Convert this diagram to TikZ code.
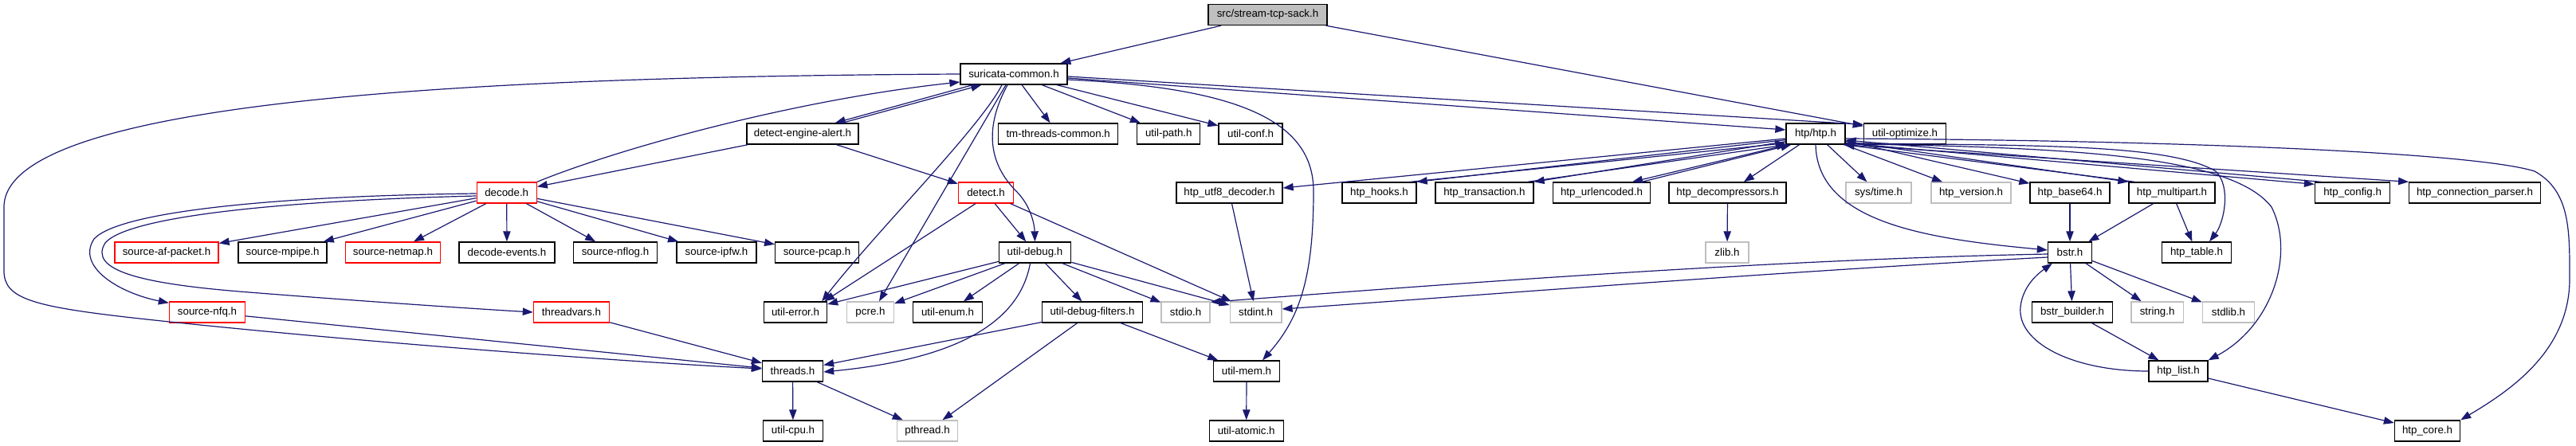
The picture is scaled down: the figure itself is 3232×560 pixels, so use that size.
\documentclass[tikz,border=0pt]{standalone}
\usepackage{fontspec}
\setmainfont{Liberation Sans}
\usetikzlibrary{arrows.meta,calc}
\definecolor{edgec}{HTML}{191970}
\definecolor{grayb}{HTML}{BFBFBF}
\tikzset{
  nb/.style={draw=black, line width=1pt, rectangle, inner sep=0pt, minimum height=19.5pt, font=\fontsize{10}{12}\selectfont, fill=white},
  rb/.style={nb, draw=red},
  gb/.style={nb, draw=grayb},
  rootb/.style={nb, fill=grayb},
  e/.style={draw=edgec, line width=0.9pt, -{Triangle[length=9.75pt,width=7pt]}},
}
\begin{document}
\begin{tikzpicture}[x={(0.75pt,0)}, y={(0,-0.75pt)}]
\useasboundingbox (0,0) rectangle (3232,560);
% nodes
\node[rootb, minimum width=111.75pt] (root) at (1590.5,18.5) {src/stream-tcp-sack.h};
\node[nb, minimum width=100.5pt] (SC) at (1272,93) {suricata-common.h};
\node[nb, minimum width=105pt] (DEA) at (1007,168) {detect-engine-alert.h};
\node[nb, minimum width=112.5pt] (tm) at (1327.7,168) {tm-threads-common.h};
\node[nb, minimum width=59.25pt] (UP) at (1466.3,168) {util-path.h};
\node[nb, minimum width=60pt] (UC) at (1569,168) {util-conf.h};
\node[nb, minimum width=55.5pt] (H) at (2278,168) {htp/htp.h};
\node[nb, minimum width=77.25pt] (UO) at (2390,168) {util-optimize.h};
\node[rb, minimum width=56.25pt] (D) at (635.7,242) {decode.h};
\node[rb, minimum width=51.75pt] (detect) at (1237,242) {detect.h};
\node[nb, minimum width=99.75pt] (utf8) at (1542.5,242) {htp\_utf8\_decoder.h};
\node[nb, minimum width=69.75pt] (hooks) at (1730.5,242) {htp\_hooks.h};
\node[nb, minimum width=92.25pt] (trans) at (1862.4,242) {htp\_transaction.h};
\node[nb, minimum width=91.1pt] (url) at (2009.5,242) {htp\_urlencoded.h};
\node[nb, minimum width=110.25pt] (dec) at (2167.5,242) {htp\_decompressors.h};
\node[gb, minimum width=61.5pt] (systime) at (2357,242) {sys/time.h};
\node[gb, minimum width=75pt] (ver) at (2473,242) {htp\_version.h};
\node[nb, minimum width=75pt] (b64) at (2597,242) {htp\_base64.h};
\node[nb, minimum width=81pt] (mp) at (2725,242) {htp\_multipart.h};
\node[nb, minimum width=70.5pt] (config) at (2951.6,242) {htp\_config.h};
\node[nb, minimum width=123.4pt] (cp) at (3105,242) {htp\_connection\_parser.h};
\node[rb, minimum width=97.5pt] (afp) at (209,317) {source-af-packet.h};
\node[nb, minimum width=83.25pt] (mpipe) at (354.6,317) {source-mpipe.h};
\node[rb, minimum width=89.25pt] (netmap) at (493,317) {source-netmap.h};
\node[nb, minimum width=90pt] (devents) at (636,317) {decode-events.h};
\node[nb, minimum width=78.5pt] (nflog) at (772,317) {source-nflog.h};
\node[nb, minimum width=75pt] (ipfw) at (899,317) {source-ipfw.h};
\node[nb, minimum width=78.4pt] (pcap) at (1025,317) {source-pcap.h};
\node[nb, minimum width=67.5pt] (UD) at (1298.5,317) {util-debug.h};
\node[gb, minimum width=40.5pt] (zlib) at (2167,317) {zlib.h};
\node[nb, minimum width=41.25pt] (bstr) at (2597,317) {bstr.h};
\node[nb, minimum width=65.25pt] (table) at (2756,317) {htp\_table.h};
\node[rb, minimum width=71.25pt] (nfq) at (260,392) {source-nfq.h};
\node[rb, minimum width=71.25pt] (tv) at (717,392) {threadvars.h};
\node[nb, minimum width=59.25pt] (UE) at (998,392) {util-error.h};
\node[gb, minimum width=44.25pt] (pcre) at (1092,392) {pcre.h};
\node[nb, minimum width=65.25pt] (UEnum) at (1189,392) {util-enum.h};
\node[nb, minimum width=94.5pt] (UDF) at (1370.5,392) {util-debug-filters.h};
\node[gb, minimum width=45.75pt] (stdio) at (1487.6,392) {stdio.h};
\node[gb, minimum width=48.5pt] (stdint) at (1575.6,392) {stdint.h};
\node[nb, minimum width=75.75pt] (bb) at (2600,392) {bstr\_builder.h};
\node[gb, minimum width=49.2pt] (string) at (2706.6,392) {string.h};
\node[gb, minimum width=48.75pt] (stdlib) at (2796,392) {stdlib.h};
\node[nb, minimum width=57pt] (threads) at (994.5,466) {threads.h};
\node[nb, minimum width=62.25pt] (UM) at (1564,466) {util-mem.h};
\node[nb, minimum width=55.5pt] (list) at (2733,466) {htp\_list.h};
\node[nb, minimum width=56.25pt] (cpu) at (995,541) {util-cpu.h};
\node[gb, minimum width=56.6pt] (pthread) at (1163.5,541) {pthread.h};
\node[nb, minimum width=69.75pt] (atomic) at (1563.7,541) {util-atomic.h};
\node[nb, minimum width=61.5pt] (core) at (3045.5,541) {htp\_core.h};
% edges
\draw[e] (root) -- (SC);
\draw[e] (root) -- (UO);
\draw[e] ($(SC.south west)+(16,0)$) -- ($(DEA.north east)+(-30,0)$);
\draw[e] ($(DEA.north east)+(-21,0)$) -- ($(SC.south west)+(27,0)$);
\draw[e] (D.north east) .. controls (780,185) and (1000,125) .. ($(SC.west)+(0,10)$);
\draw[e] (DEA) -- (D);
\draw[e] (DEA) -- (detect);
\draw[e] (SC.west) .. controls (650,96) and (5,120) .. (5,260) -- (5,340) .. controls (5,375) and (40,385) .. (175,400) .. controls (450,430) and (800,455) .. ($(threads.west)+(0,-3)$);
\draw[e] ($(SC.south)+(-15,0)$) .. controls (1230,160) and (1100,290) .. ($(UE.north east)+(-7,0)$);
\draw[e] ($(SC.south)+(-10,0)$) -- ($(pcre.north)+(11,0)$);
\draw[e] ($(SC.south)+(-8,0)$) .. controls (1235,160) and (1240,205) .. (1275,240) .. controls (1295,260) and (1298,285) .. (UD.north);
\draw[e] (SC) -- (tm);
\draw[e] (SC) -- (UP);
\draw[e] (SC) -- (UC);
\draw[e] ($(SC.east)+(0,5)$) -- ($(H.west)+(0,-5)$);
\draw[e] ($(SC.east)+(0,3)$) -- ($(UO.north west)+(0,2)$);
\draw[e] ($(SC.east)+(0,7)$) .. controls (1550,110) and (1648,150) .. (1648,240) .. controls (1648,350) and (1630,400) .. ($(UM.north)+(20,0)$);
% decode.h
\draw[e] (D) -- (afp);
\draw[e] (D) -- (mpipe);
\draw[e] (D) -- (netmap);
\draw[e] (D) -- (devents);
\draw[e] (D) -- (nflog);
\draw[e] (D) -- (ipfw);
\draw[e] (D) -- (pcap);
\draw[e] ($(D.west)+(0,1)$) .. controls (350,246) and (150,265) .. (118,300) .. controls (95,335) and (150,368) .. ($(nfq.north west)+(0,2)$);
\draw[e] ($(D.west)+(0,4)$) .. controls (350,252) and (160,272) .. (132,305) .. controls (110,340) and (180,356) .. (300,366) .. controls (450,378) and (600,388) .. (tv.west);
\draw[e] (tv) -- (threads);
\draw[e] (nfq) -- (threads);
% detect.h
\draw[e] ($(detect.south)+(-13,0)$) -- ($(UE.north east)+(-4,0)$);
\draw[e] (detect) -- (UD);
\draw[e] (detect) -- (stdint);
% util-debug.h
\draw[e] (UD) -- (UE);
\draw[e] (UD) -- (pcre);
\draw[e] (UD) -- (UEnum);
\draw[e] (UD) -- (UDF);
\draw[e] (UD) -- (stdio);
\draw[e] (UD) -- (stdint);
\draw[e] ($(UD.south)+(-6,0)$) .. controls (1280,400) and (1210,450) .. ($(threads.east)+(0,1)$);
% util-debug-filters.h
\draw[e] (UDF) -- (threads);
\draw[e] (UDF) -- (pthread);
\draw[e] (UDF) -- (UM);
\draw[e] (threads) -- (cpu);
\draw[e] (threads) -- (pthread);
\draw[e] (UM) -- (atomic);
\draw[e] (utf8) -- (stdint);
% htp/htp.h
\draw[e] ($(H.west)+(0,6)$) -- ($(utf8.east)+(0,-6)$);
\draw[e] ($(H.south west)+(0,-6)$) -- (hooks.north east);
\draw[e] ($(hooks.north east)+(-8,0)$) -- ($(H.south west)+(0,-2)$);
\draw[e] ($(H.south west)+(0,-4)$) -- (trans.north east);
\draw[e] ($(trans.north east)+(-8,0)$) -- ($(H.south west)+(2,0)$);
\draw[e] ($(H.south west)+(3,0)$) -- ($(url.north east)+(-23,0)$);
\draw[e] ($(url.north east)+(-11,0)$) -- ($(H.south west)+(7,0)$);
\draw[e] (H) -- (dec);
\draw[e] (H) -- (systime);
\draw[e] (H) -- (ver);
\draw[e] (H) -- (b64);
\draw[e] ($(H.south east)+(0,-4)$) -- (mp.north west);
\draw[e] ($(mp.north west)+(8,0)$) -- ($(H.south east)+(-2,0)$);
\draw[e] ($(H.south east)+(0,-2)$) -- ($(config.north west)+(0,3)$);
\draw[e] ($(config.north west)+(8,0)$) -- ($(H.east)+(0,8)$);
\draw[e] ($(H.south east)+(-3,0)$) -- (cp.north west);
\draw[e] (H.south) .. controls (2280,280) and (2420,300) .. ($(bstr.west)+(0,-3)$);
\draw[e] ($(H.south east)+(0,-2)$) .. controls (2550,183) and (2720,180) .. (2780,215) .. controls (2800,235) and (2790,280) .. ($(table.north)+(16,0)$);
\draw[e] ($(H.south east)+(0,-1)$) .. controls (2600,185) and (2800,195) .. (2850,260) .. controls (2880,320) and (2850,410) .. (list.north east);
\draw[e] ($(H.east)+(0,6)$) .. controls (2700,176) and (3100,190) .. (3180,215) .. controls (3225,240) and (3224,290) .. (3224,350) .. controls (3224,440) and (3150,490) .. (core.north east);
% htp others
\draw[e] (dec) -- (zlib);
\draw[e] (b64) -- (bstr);
\draw[e] (mp) -- (bstr);
\draw[e] (mp) -- (table);
\draw[e] (bstr) -- (bb);
\draw[e] (bstr) -- (string);
\draw[e] (bstr) -- (stdlib);
\draw[e] ($(bstr.west)+(0,2)$) .. controls (2200,326) and (1750,362) .. ($(stdio.north east)+(0,1)$);
\draw[e] ($(bstr.west)+(0,6)$) .. controls (2200,343) and (1800,375) .. ($(stdint.east)+(0,-4)$);
\draw[e] (bb) -- (list);
\draw[e] (list.west) .. controls (2600,466) and (2530,430) .. (2535,385) .. controls (2538,360) and (2555,345) .. ($(bstr.south west)+(6,0)$);
\draw[e] (list) -- (core);
\end{tikzpicture}
\end{document}
